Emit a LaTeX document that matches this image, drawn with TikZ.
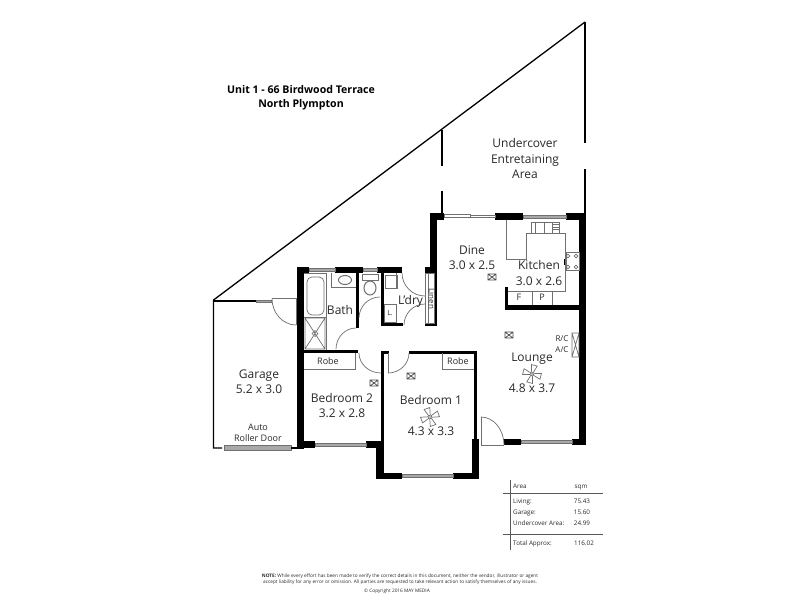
\documentclass[tikz,border=0pt]{standalone}
\usepackage{fontspec}
\setmainfont{Open Sans}
\usetikzlibrary{calc}
\definecolor{ink}{HTML}{2A2A2A}
\definecolor{fixt}{HTML}{707070}
\definecolor{glass}{HTML}{A8A8A8}
\newcommand{\qarc}[3]{($#1$) .. controls ($#1!0.55!#2$) and ($#3!0.55!#2$) .. ($#3$)}
\newcommand{\ceilfan}[3]{\begin{scope}[shift={(#1,#2)},rotate=#3]
 \foreach \a in {0,90,180,270}{\draw[fixture,rotate=\a] (1.5,-0.8) -- (9,-3) -- (9,3) -- (1.5,0.8);}
 \draw[fixture] (0,0) circle (1.6);
 \end{scope}}
\newcommand{\detector}[2]{\draw[fixture,black!70] (#1-4,#2-3) rectangle (#1+4,#2+3) (#1-4,#2-3) -- (#1+4,#2+3) (#1-4,#2+3) -- (#1+4,#2-3);}
\tikzset{
 wall/.style={fill=black},
 outline/.style={draw=black,line width=1.3pt},
 fixture/.style={draw=fixt,line width=0.7pt},
 doorarc/.style={draw=fixt,line width=0.7pt},
 pane/.style={draw=fixt,fill=glass,line width=0.7pt},
 room/.style={text=ink,font=\fontsize{12}{12}\selectfont,inner sep=0pt,text height=8.7pt,text depth=2.6pt},
 small/.style={text=ink,font=\fontsize{9}{9}\selectfont,inner sep=0pt,text height=6.5pt,text depth=2pt},
 tiny/.style={text=ink,font=\fontsize{6.3}{6.3}\selectfont,inner sep=0pt,text height=4.6pt,text depth=1.4pt},
 legal/.style={text=ink,font=\fontsize{4.75}{4.75}\selectfont,inner sep=0pt},
 titletext/.style={text=black,font=\fontsize{10.6}{10.6}\selectfont\bfseries,inner sep=0pt,text height=7.4pt,text depth=2.2pt},
 rule/.style={draw=black!65,line width=0.9pt}
}
\begin{document}
\begin{tikzpicture}[x=1pt,y=-1pt]
\useasboundingbox (0,0) rectangle (800,600);
\fill[white] (0,0) rectangle (800,600);
% site outline
\draw[outline] (585,22) -- (213.5,300) -- (213.5,448) -- (222,448);
\draw[outline] (585,22) -- (585,143) (585,169) -- (585,213);
\draw[outline] (442,130) -- (442,166) (442,191) -- (442,213);
\draw[outline] (213.5,301) -- (256,301);
\draw[pane] (256,300) rectangle (271,302.5);
% garage door
\draw[fixture] (272,298.5) -- (296,298.5) -- (296,325);
\draw[doorarc] \qarc{(272,298.5)}{(272,325)}{(296,325)};
% roller door
\draw[pane] (224,445.5) rectangle (291,450);
\draw[fixture] (224,444.5) -- (224,451) (291,444.5) -- (291,451);
% walls
\fill[wall] (297,267) rectangle (304,448);
\fill[wall] (291,446.6) rectangle (304,449);
\fill[wall] (297,267) rectangle (309,273);
\fill[wall] (335,267) rectangle (363,273);
\fill[wall] (377,267) rectangle (402,273);
\fill[wall] (425,267) rectangle (437,273);
\fill[wall] (430,213) rectangle (437,273);
\fill[wall] (430,213) rectangle (444,220);
\fill[wall] (495,213) rectangle (523,220);
\fill[wall] (566,213) rectangle (586,220);
\fill[wall] (579,213) rectangle (586,445);
\fill[wall] (572,439) rectangle (586,445);
\fill[wall] (504,439) rectangle (521,445);
\fill[wall] (434,273) rectangle (437,325);
\fill[wall] (425,323) rectangle (437,325.5);
\fill[wall] (356,273) rectangle (359,328);
\fill[wall] (381,273) rectangle (384,325);
\fill[wall] (381,322.5) rectangle (403,325.5);
\fill[wall] (304,350) rectangle (358,353);
\fill[wall] (381,351) rectangle (384,442);
\fill[wall] (381,351) rectangle (389,353.5);
\fill[wall] (304,441) rectangle (315,448);
\fill[wall] (366,441) rectangle (384,448);
\fill[wall] (376,441) rectangle (384,479);
\fill[wall] (376,473) rectangle (402,479);
\fill[wall] (453,473) rectangle (479,479);
\fill[wall] (472,439) rectangle (479,479);
\fill[wall] (474,351) rectangle (477,440);
\fill[wall] (409,351) rectangle (477,353.5);
\fill[wall] (505,305) rectangle (579,310);
\fill[wall] (505,287) rectangle (508,310);
% windows
\draw[pane] (309,268.5) rectangle (335,271.5);
\draw[pane] (363,268.5) rectangle (377,271.5);
\draw[pane] (523,215) rectangle (566,218);
\draw[pane] (315,443) rectangle (366,446);
\draw[pane] (402,474.5) rectangle (453,477.5);
\draw[pane] (521,440.5) rectangle (572,443.5);
\draw[fixture] (444,214.5) rectangle (470,217) (470,215) rectangle (495,217.5);
% door swings
\draw[doorarc] \qarc{(402,273)}{(402,296)}{(425,296)};
\draw[doorarc] \qarc{(404,325)}{(404,304)}{(425,304)};
\draw[doorarc] \qarc{(359,318)}{(359,297)}{(380,297)};
\draw[doorarc] \qarc{(336,349)}{(336,328)}{(356,328)};
\draw[doorarc] \qarc{(359,353)}{(359,373)}{(381,373)};
\draw[fixture] (388,353) -- (388,373);
\draw[doorarc] \qarc{(388,373)}{(409,373)}{(409,353)};
\draw[fixture] (481,445) -- (481,417);
\draw[fixture] (481,445) -- (504,445);
\draw[doorarc] \qarc{(481,417)}{(504,417)}{(504,445)};
% bathroom fixtures
\draw[fixture] (304,273) -- (326,273) -- (326,350);
\draw[fixture,rounded corners=5pt] (307,315) -- (307,277) -- (324,277) -- (324,315) -- cycle;
\draw[fixture] (304,317) -- (326,317);
\draw[fixture] (305,318) rectangle (325,349) (305,318) -- (325,349) (325,318) -- (305,349);
\draw[fixture] (312,333.5) -- (315,330.5) -- (318,333.5) -- (315,336.5) -- cycle;
\draw[fixture] (331,273) -- (331,287) -- (356,287);
\draw[fixture,line width=1pt] (345,280) ellipse (6.5 and 4.5);
\draw[fixture] (362,274) rectangle (378,280);
\draw[fixture,line width=1pt] (370,288) ellipse (6 and 7);
% laundry fixtures
\draw[fixture] (385,275) rectangle (397,288);
\draw[fixture] (396,273) -- (396,289);
\draw[fixture] (384,304) rectangle (396,322.5);
\node[small,font=\fontsize{7}{7}\selectfont] (lmark) at (390,313) {L.};
% linen
\draw[fixture] (425,273) rectangle (434,323) (428,273) -- (428,323);
\node[small,rotate=-90,font=\fontsize{8}{8}\selectfont] (linen) at (431,299) {Linen};
% kitchen
\draw[fixture] (506,220) -- (506,259) -- (526.5,259) -- (526.5,233) -- (565.5,233) -- (565.5,291) -- (508,291);
\draw[fixture] (532,291) -- (532,305) (552,291) -- (552,305);
\draw[fixture] (531,222) rectangle (559,233) (535,222) -- (535,233) (544,222) -- (544,233) (552,222) -- (552,233);
\draw[fixture,line width=0.4pt] (552,224.5) -- (559,224.5) (552,227) -- (559,227) (552,229.5) -- (559,229.5);
\draw[fixture] (566,252) rectangle (579,270);
\foreach \bx/\by in {568/256,576/256,568/267,576/267}{\draw[fixture] (\bx,\by) circle (1.8);}
\draw[black,line width=1.2pt] (564.5,259) -- (564.5,265);
\node[small] (fmark) at (519,298) {F};
\node[small] (pmark) at (542,298) {P};
% robes
\draw[fixture] (304,369) -- (355,369) -- (355,353);
\draw[fixture] (442,353) -- (442,369) -- (474,369);
% AC unit
\draw[fixture] (572,333) rectangle (579,357) (572,333) -- (579,357) (579,333) -- (572,357);
% detectors and fans
\detector{411}{376}
\detector{374}{383}
\detector{492}{277}
\detector{509}{335}
\ceilfan{430}{417}{20}
\ceilfan{532}{374}{-15}
% labels
\node[titletext] (t1) at (301,91) {Unit 1 - 66 Birdwood Terrace};
\node[titletext] (t2) at (301,105) {North Plympton};
\node[room] (u1) at (525,144) {Undercover};
\node[room] (u2) at (525,160) {Entretaining};
\node[room] (u3) at (525,175) {Area};
\node[room] (dine) at (472,251) {Dine};
\node[room] (dined) at (472,266) {3.0 x 2.5};
\node[room] (kit) at (539,266) {Kitchen};
\node[room] (kitd) at (539,282) {3.0 x 2.6};
\node[room] (bath) at (340,311) {Bath};
\node[room] (ldry) at (410.5,301) {L'dry};
\node[room] (gar) at (259,375) {Garage};
\node[room] (gard) at (259,390) {5.2 x 3.0};
\node[small] (auto) at (258,428) {Auto};
\node[small] (roller) at (258,439) {Roller Door};
\node[small] (robeb) at (328,362) {Robe};
\node[small] (robea) at (458,362) {Robe};
\node[room] (bed2) at (342,399) {Bedroom 2};
\node[room] (bed2d) at (342,414) {3.2 x 2.8};
\node[room] (bed1) at (431,401) {Bedroom 1};
\node[room] (bed1d) at (431,432) {4.3 x 3.3};
\node[room] (lounge) at (532,358) {Lounge};
\node[room] (lounged) at (532,389) {4.8 x 3.7};
\node[small,font=\fontsize{8}{8}\selectfont] (rc) at (562,339) {R/C};
\node[small,font=\fontsize{8}{8}\selectfont] (ac) at (562,350) {A/C};
% area table
\draw[rule] (510,480) -- (510,550);
\draw[rule] (503,493) -- (603,493);
\draw[rule] (503,534) -- (603,534);
\node[tiny,anchor=west] (a1) at (513,487) {Area};
\node[tiny] (a2) at (581,487) {sqm};
\node[tiny,anchor=west] (b1) at (513,502) {Living:};
\node[tiny] (b2) at (582,502) {75.43};
\node[tiny,anchor=west] (c1) at (513,513) {Garage:};
\node[tiny] (c2) at (582,513) {15.60};
\node[tiny,anchor=west] (d1) at (513,524) {Undercover Area:};
\node[tiny] (d2) at (582,524) {24.99};
\node[tiny,anchor=west] (e1) at (513,544) {Total Approx:};
\node[tiny] (e2) at (584,544) {116.02};
% legal note
\node[legal] (n1) at (400,576) {\textbf{NOTE:} While every effort has been made to verify the correct details in this document, neither the vendor, illustrator or agent};
\node[legal] (n2) at (400,582) {accept liability for any error or omission. All parties are requested to take relevant action to satisfy themselves of any issues.};
\node[legal] (n3) at (397,591) {\textcopyright{} Copyright 2016 MAY MEDIA};
\end{tikzpicture}
\end{document}
